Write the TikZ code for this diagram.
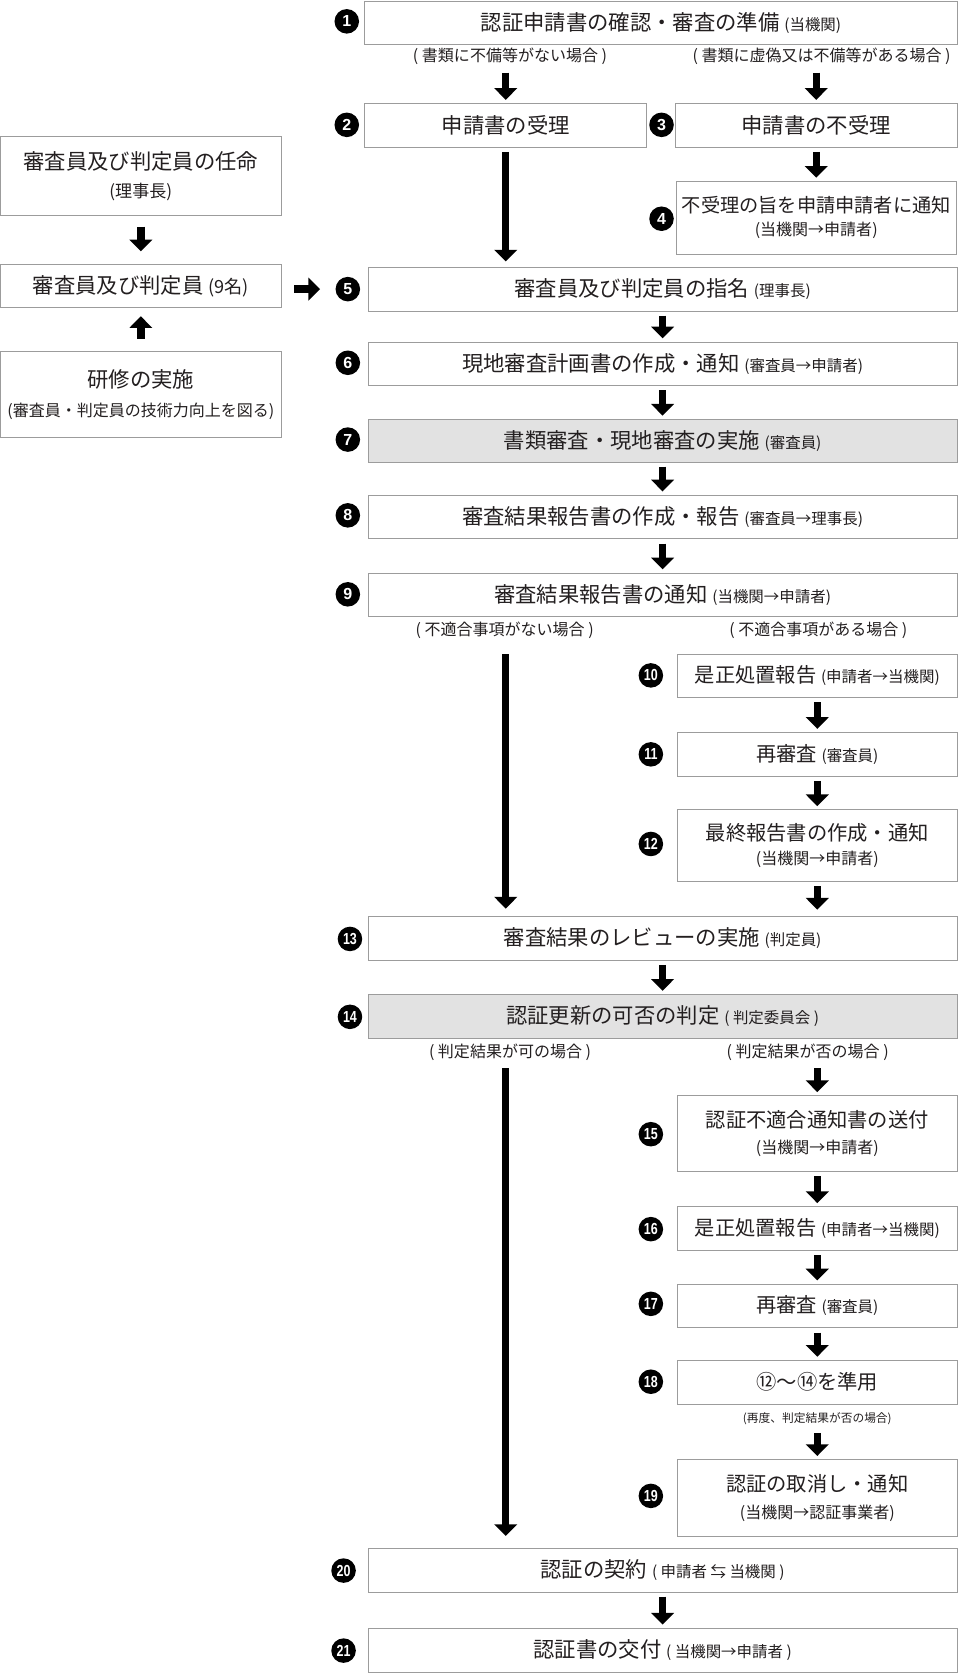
\documentclass[tikz,border=0pt]{standalone}
\usepackage{fontspec}
\usepackage{graphicx}
\setmainfont{Noto Sans CJK JP}
\newfontfamily\badgeface{Liberation Sans}
\usetikzlibrary{arrows.meta}

\definecolor{framegray}{HTML}{9C9C9C}
\definecolor{panelgray}{HTML}{E2E2E2}
\definecolor{ink}{HTML}{231F20}

\newcommand{\mainsize}{\fontsize{20pt}{25pt}\selectfont}
\newcommand{\aside}[1]{{\fontsize{14.5pt}{16pt}\selectfont #1}}
\newcommand{\subline}[1]{{\fontsize{15pt}{17pt}\selectfont #1}}
\newcommand{\twodig}[1]{\scalebox{.78}[1]{#1}}

\tikzstyle{block} = [rectangle, draw=framegray, line width=0.8pt, inner sep=2pt, align=center, text=ink, font=\mainsize, minimum height=41pt]
\tikzstyle{wideblock} = [block, minimum width=552pt]
\tikzstyle{halfblock} = [block, minimum width=264pt]
\tikzstyle{sideblock} = [block, minimum width=262pt]
\tikzstyle{badge} = [circle, fill=black, text=white, minimum size=23pt, inner sep=0pt, font=\badgeface\bfseries\fontsize{15pt}{15pt}\selectfont]
\tikzstyle{cond} = [inner sep=1pt, text=ink, font=\fontsize{15pt}{17pt}\selectfont]

\begin{document}
\begin{tikzpicture}[x=1pt, y=-1pt]
        \tikzset{blockarrow/.style={line width=7pt, -{Triangle[width=21pt,length=11pt]}, shorten <=4pt, shorten >=3pt}}
        \fill[white] (0,0) rectangle (900,1568);
        \useasboundingbox (0,0) rectangle (900,1568);
        % application and acceptance
        \node (n1) at (619.5,21.5) [block, minimum width=555pt] {認証申請書の確認・審査の準備 \aside{(当機関)}};
        \node (lab1a) at (478,53) [cond] {( 書類に不備等がない場合 )};
        \node (lab1b) at (770,53) [cond] {( 書類に虚偽又は不備等がある場合 )};
        \node (n2) at (474,117.5) [halfblock] {申請書の受理};
        \node (n3) at (765,117.5) [halfblock] {申請書の不受理};
        \node (n4) at (765,204) [block, minimum width=263pt, minimum height=68pt, font=\fontsize{18pt}{21pt}\selectfont] {不受理の旨を申請申請者に通知\\\subline{(当機関→申請者)}};
        % examiners (left column)
        \node (nA) at (132,165) [block, minimum width=263pt, minimum height=74pt] {審査員及び判定員の任命\\[1pt]{\fontsize{16pt}{18pt}\selectfont (理事長)}};
        \node (nB) at (132,268) [block, minimum width=263pt, minimum height=40pt] {審査員及び判定員 {\fontsize{17pt}{20pt}\selectfont (9名)}};
        \node (nC) at (132,369.5) [block, minimum width=263pt, minimum height=81pt] {研修の実施\\[2pt]{\fontsize{15pt}{18pt}\selectfont (審査員・判定員の技術力向上を図る)}};
        % examination
        \node (n5) at (621,271) [wideblock] {審査員及び判定員の指名 \aside{(理事長)}};
        \node (n6) at (621,341) [wideblock] {現地審査計画書の作成・通知 \aside{(審査員→申請者)}};
        \node (n7) at (621,413) [wideblock, fill=panelgray, minimum height=40pt] {書類審査・現地審査の実施 \aside{(審査員)}};
        \node (n8) at (621,484.5) [wideblock] {審査結果報告書の作成・報告 \aside{(審査員→理事長)}};
        \node (n9) at (621,557.5) [wideblock] {審査結果報告書の通知 \aside{(当機関→申請者)}};
        \node (lab9a) at (473,591) [cond] {( 不適合事項がない場合 )};
        \node (lab9b) at (767,591) [cond] {( 不適合事項がある場合 )};
        \node (n10) at (766,633.5) [sideblock, font=\fontsize{19pt}{23pt}\selectfont] {是正処置報告 \aside{(申請者→当機関)}};
        \node (n11) at (766,707) [sideblock, font=\fontsize{19pt}{23pt}\selectfont] {再審査 \aside{(審査員)}};
        \node (n12) at (766,792.5) [sideblock, minimum height=67pt, font=\fontsize{19pt}{22pt}\selectfont] {最終報告書の作成・通知\\\subline{(当機関→申請者)}};
        \node (n13) at (621,879.5) [wideblock] {審査結果のレビューの実施 \aside{(判定員)}};
        \node (n14) at (621,952.5) [wideblock, fill=panelgray] {認証更新の可否の判定 \aside{( 判定委員会 )}};
        \node (lab14a) at (478,986) [cond] {( 判定結果が可の場合 )};
        \node (lab14b) at (757,986) [cond] {( 判定結果が否の場合 )};
        \node (n15) at (766,1062.5) [sideblock, minimum height=71pt, font=\fontsize{19pt}{25pt}\selectfont] {認証不適合通知書の送付\\\subline{(当機関→申請者)}};
        \node (n16) at (766,1151.5) [sideblock, font=\fontsize{19pt}{23pt}\selectfont] {是正処置報告 \aside{(申請者→当機関)}};
        \node (n17) at (766,1224) [sideblock, font=\fontsize{19pt}{23pt}\selectfont] {再審査 \aside{(審査員)}};
        \node (n18) at (766,1295.5) [sideblock, font=\fontsize{19pt}{23pt}\selectfont] {⑫〜⑭を準用};
        \node (lab18) at (766,1330) [cond, font=\fontsize{11pt}{13pt}\selectfont] {(再度、判定結果が否の場合)};
        \node (n19) at (766,1404) [sideblock, minimum height=72pt, font=\fontsize{19pt}{25pt}\selectfont] {認証の取消し・通知\\\subline{(当機関→認証事業者)}};
        % contract
        \node (n20) at (621,1471.5) [wideblock] {認証の契約 \aside{( 申請者 ⇆ 当機関 )}};
        \node (n21) at (621,1546.5) [wideblock] {認証書の交付 \aside{( 当機関→申請者 )}};
        % step numbers
        \node (b1) at (325,20) [badge] {1};
        \node (b2) at (325,117) [badge] {2};
        \node (b3) at (620,117) [badge] {3};
        \node (b4) at (620,205) [badge] {4};
        \node (b5) at (326,271) [badge] {5};
        \node (b6) at (326,340) [badge] {6};
        \node (b7) at (326,412) [badge] {7};
        \node (b8) at (326,483) [badge] {8};
        \node (b9) at (326,557) [badge] {9};
        \node (b10) at (610,633) [badge] {\twodig{10}};
        \node (b11) at (610,707) [badge] {\twodig{11}};
        \node (b12) at (610,791) [badge] {\twodig{12}};
        \node (b13) at (328,880) [badge] {\twodig{13}};
        \node (b14) at (328,953) [badge] {\twodig{14}};
        \node (b15) at (610,1063) [badge] {\twodig{15}};
        \node (b16) at (610,1152) [badge] {\twodig{16}};
        \node (b17) at (610,1222) [badge] {\twodig{17}};
        \node (b18) at (610,1295) [badge] {\twodig{18}};
        \node (b19) at (610,1402) [badge] {\twodig{19}};
        \node (b20) at (322,1472) [badge] {\twodig{20}};
        \node (b21) at (322,1547) [badge] {\twodig{21}};
        % arrows
        \draw[blockarrow, shorten <=6pt] (lab1a.south -| n2) -- (n2.north);
        \draw[blockarrow, shorten <=6pt] (lab1b.south -| n3) -- (n3.north);
        \draw[blockarrow] (n3) -- (n4);
        \draw[blockarrow, shorten >=5pt] (n2) -- (n2 |- n5.north);
        \draw[blockarrow, shorten <=10pt, shorten >=12pt] (nA) -- (nB);
        \draw[blockarrow, shorten <=11pt, shorten >=8pt] (nC) -- (nB);
        \draw[blockarrow, shorten <=12pt, shorten >=26pt] (nB.east |- b5) -- (b5.center);
        \draw[blockarrow] (n5) -- (n6);
        \draw[blockarrow] (n6) -- (n7);
        \draw[blockarrow] (n7) -- (n8);
        \draw[blockarrow] (n8) -- (n9);
        \draw[blockarrow, shorten <=13pt, shorten >=7pt] (lab9a.south -| n2) -- (n2 |- n13.north);
        \draw[blockarrow] (n10) -- (n11);
        \draw[blockarrow] (n11) -- (n12);
        \draw[blockarrow, shorten >=6pt] (n12) -- (n12 |- n13.north);
        \draw[blockarrow] (n13) -- (n14);
        \draw[blockarrow, shorten <=6pt] (lab14b.south -| n15) -- (n15.north);
        \draw[blockarrow, shorten <=6pt, shorten >=11pt] (lab14a.south -| n2) -- (n2 |- n20.north);
        \draw[blockarrow] (n15) -- (n16);
        \draw[blockarrow] (n16) -- (n17);
        \draw[blockarrow] (n17) -- (n18);
        \draw[blockarrow, shorten <=6pt] (lab18) -- (n19);
        \draw[blockarrow] (n20) -- (n21);
    \end{tikzpicture}
\end{document}
